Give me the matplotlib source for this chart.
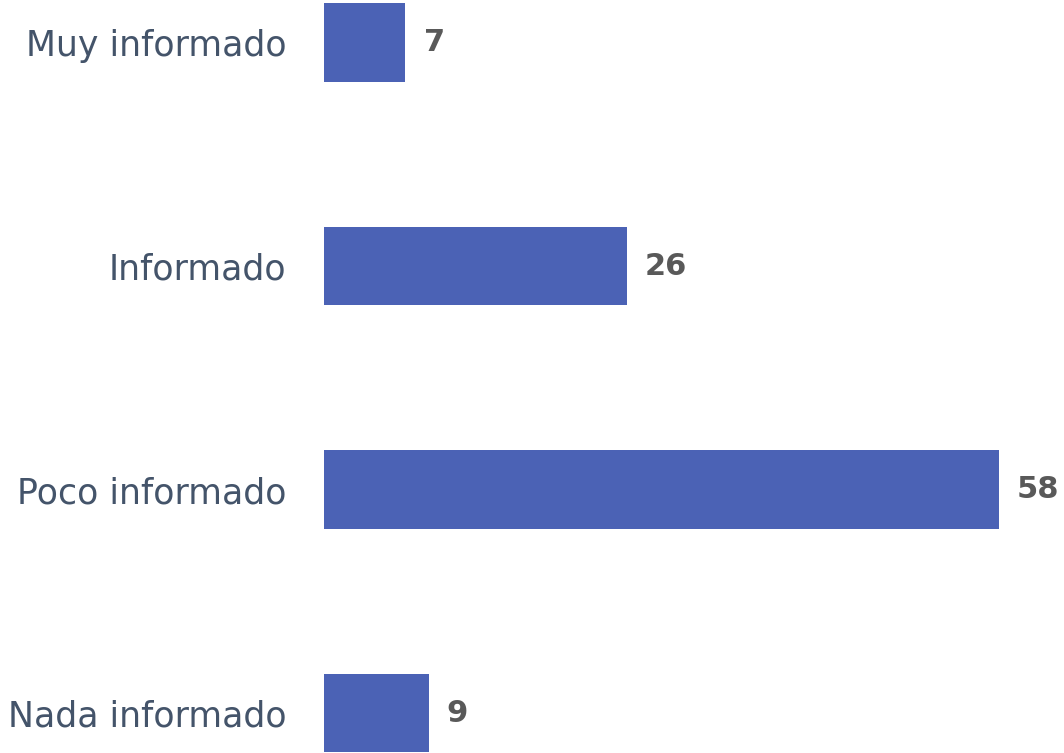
import matplotlib
matplotlib.use("Agg")
import matplotlib.pyplot as plt

categories = ["Muy informado", "Informado", "Poco informado", "Nada informado"]
values = [7, 26, 58, 9]

W, H = 1064, 753
fig = plt.figure(figsize=(W / 100, H / 100), dpi=100)
ax = fig.add_axes([324 / W, 0, (999 - 324) / W, 1])

ypos = list(range(len(categories)))[::-1]
ax.barh(ypos, values, height=0.35, color="#4B62B5")
ax.set_xlim(0, 58)
ax.set_ylim(-40 / 223.5, (753 - 40) / 223.5)

for y, v in zip(ypos, values):
    ax.annotate(str(v), (v, y), xytext=(13, 0), textcoords="offset points",
                va="center", ha="left", fontsize=22, fontweight="bold",
                color="#595959", annotation_clip=False)

ax.set_yticks(ypos)
ax.set_yticklabels(categories, fontsize=25, color="#44546A")
ax.tick_params(axis="y", length=0, pad=27)
ax.set_xticks([])
for s in ax.spines.values():
    s.set_visible(False)

fig.savefig("out.png", dpi=100)
